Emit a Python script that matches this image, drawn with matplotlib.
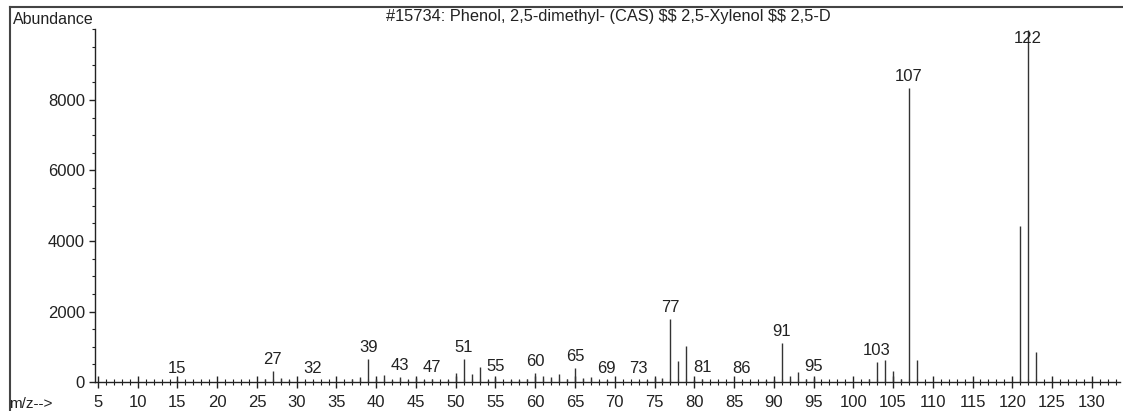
import matplotlib
matplotlib.use("Agg")
import matplotlib.pyplot as plt
from matplotlib.lines import Line2D
from matplotlib.ticker import MultipleLocator

plt.rcParams['font.family'] = ['Liberation Sans', 'DejaVu Sans']

# Mass spectrum of 2,5-xylenol: m/z and abundance
mz = [15, 26, 27, 28, 29, 31, 32, 37, 38, 39, 40, 41, 42, 43, 44, 45, 46, 47,
      49, 50, 51, 52, 53, 54, 55, 57, 58, 59, 60, 61, 62, 63, 64, 65, 66, 67,
      68, 69, 73, 74, 75, 76, 77, 78, 79, 80, 81, 86, 89, 90, 91, 92, 93, 94,
      95, 102, 103, 104, 105, 106, 107, 108, 121, 122, 123]
abundance = [60, 80, 310, 120, 60, 30, 40, 80, 130, 650, 90, 200, 60, 150, 50,
             110, 50, 80, 60, 260, 650, 220, 420, 60, 100, 50, 60, 90, 260, 170,
             130, 230, 80, 400, 100, 150, 40, 60, 40, 70, 110, 100, 1790, 600,
             1010, 70, 80, 40, 70, 60, 1100, 160, 280, 80, 120, 90, 560, 620,
             300, 80, 8340, 620, 4420, 9999, 850]

# Peaks carrying an m/z label
labelled = [15, 27, 32, 39, 43, 47, 51, 55, 60, 65, 69, 73, 77, 81, 86, 91,
            95, 103, 107, 122]

x_ticks = list(range(5, 131, 5))
y_ticks = [0, 2000, 4000, 6000, 8000]
title = r"#15734: Phenol, 2,5-dimethyl- (CAS) \$\$ 2,5-Xylenol \$\$ 2,5-D"

W, H = 1123, 411
fig = plt.figure(figsize=(W / 100, H / 100), dpi=100)
ax = fig.add_axes([94.8 / W, 29 / H, (1119.6 - 94.8) / W, (381.5 - 29) / H])

ink = '#222222'
ax.vlines(mz, 0, abundance, colors='#333333', linewidth=1.0)

lookup = dict(zip(mz, abundance))
for m in labelled:
    v = min(lookup[m], 9400)
    ax.annotate(str(m), xy=(m, v), xytext=(0, 3), textcoords='offset points',
                ha='center', va='bottom', fontsize=12, color=ink)

ax.set_xlim(4.6, 133.5)
ax.set_ylim(0, 10000)
for s in ('top', 'right'):
    ax.spines[s].set_visible(False)
for s in ('left', 'bottom'):
    ax.spines[s].set_color(ink)
    ax.spines[s].set_linewidth(1.0)

ax.set_xticks(x_ticks)
ax.set_xticklabels([str(t) for t in x_ticks])
ax.xaxis.set_minor_locator(MultipleLocator(1))
ax.tick_params(axis='x', which='major', direction='inout', length=9, width=1.0,
               pad=5, labelsize=12, colors=ink)
ax.tick_params(axis='x', which='minor', direction='inout', length=5, width=0.8,
               colors=ink)

ax.set_yticks(y_ticks)
ax.set_yticklabels([str(t) for t in y_ticks])
ax.yaxis.set_minor_locator(MultipleLocator(500))
ax.tick_params(axis='y', which='major', direction='out', length=4, width=1.0,
               pad=3, labelsize=12, colors=ink)
ax.tick_params(axis='y', which='minor', direction='out', length=2, width=0.8,
               colors=ink)

# Frame around the plot area
fig.add_artist(Line2D([10 / W, 10 / W], [0, 1 - 7 / H], color='#444444',
                      linewidth=1.5, transform=fig.transFigure))
fig.add_artist(Line2D([10 / W, 1], [1 - 7 / H, 1 - 7 / H], color='#444444',
                      linewidth=1.5, transform=fig.transFigure))

fig.text(13 / W, 1 - 19 / H, "Abundance", fontsize=11.5, color=ink,
         ha='left', va='center')
fig.text(608 / W, 1 - 17 / H, title, fontsize=11.8, color=ink,
         ha='center', va='center')
fig.text(9 / W, 1 - 404 / H, "m/z-->", fontsize=11, color=ink,
         ha='left', va='center')

fig.savefig("out.png", dpi=100, facecolor='white')
